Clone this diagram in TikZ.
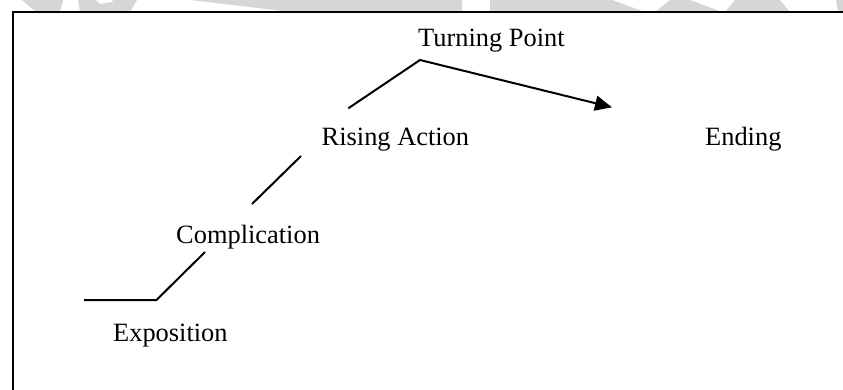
\documentclass[tikz,border=0pt]{standalone}
\usepackage{fontspec}
\setmainfont{Liberation Serif}
\usetikzlibrary{arrows.meta}
\definecolor{wmgray}{RGB}{214,214,214}
\tikzset{
  stage/.style={anchor=base west, inner sep=0pt, font=\fontsize{26.4}{30}\selectfont},
  plotline/.style={line width=2pt, line join=miter},
  frame/.style={line width=1.7pt},
  mark shape/.style={fill=wmgray, draw=none}
}
\begin{document}
\begin{tikzpicture}[x=1pt, y=-1pt]
  \useasboundingbox (0,0) rectangle (843,389);
  \clip (0,0) rectangle (843,389);
  \fill[white] (0,0) rectangle (843,389);

  % faint background mark along the top edge
  \fill[mark shape] (22,0) -- (63,0) -- (60,12) -- (36,12) -- cycle;
  \fill[mark shape] (78,0) -- (96,0) -- (100,4) -- (112,2) -- (113,0) -- (137,0)
                    -- (130,12) -- (80,12) -- cycle;
  \fill[mark shape] (190,0) -- (462,0) -- (462,12) -- (292,12) -- cycle;
  \fill[mark shape] (490,0) -- (612,0) -- (645,12) -- (490,12) -- cycle;
  \fill[mark shape] (655,12) -- (670,0) -- (690,0) -- (722,12) -- cycle;
  \fill[mark shape] (735,0) -- (780,0) -- (790,12) -- (725,12) -- cycle;
  \fill[mark shape] (836,0) -- (843,0) -- (843,12) -- (838,12) -- cycle;

  % page frame
  \fill[white] (13,12) rectangle (850,400);
  \draw[frame] (13,400) -- (13,12) -- (850,12);

  % stage labels
  \node[stage] (turn) at (418,46.7) {Turning Point};
  \node[stage] (rise) at (321.5,145) {Rising Action};
  \node[stage] (end)  at (705,145) {Ending};
  \node[stage] (comp) at (176,243.3) {Complication};
  \node[stage] (expo) at (113,341.7) {Exposition};

  % plot line vertices
  \coordinate (a0) at (84,300);
  \coordinate (a1) at (156.5,300);
  \coordinate (a2) at (205,252);
  \coordinate (b0) at (252,204);
  \coordinate (b1) at (301,156);
  \coordinate (c0) at (348.3,108.3);
  \coordinate (c1) at (420,60);
  \coordinate (c2) at (612,107.3);

  \draw[plotline] (a0) -- (a1) -- (a2);
  \draw[plotline] (b0) -- (b1);
  \draw[plotline, -{Triangle[length=17pt, width=15pt]}] (c0) -- (c1) -- (c2);
\end{tikzpicture}
\end{document}
